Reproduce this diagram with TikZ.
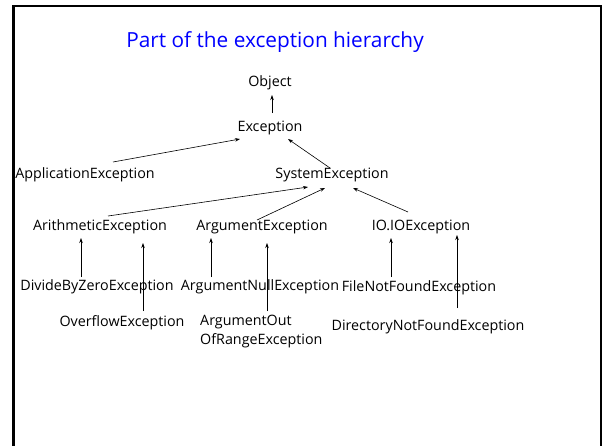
\documentclass[tikz,border=0pt]{standalone}
\usepackage{fontspec}
\setmainfont{Open Sans}
\usetikzlibrary{arrows.meta,calc}
\definecolor{titleblue}{RGB}{0,0,255}
\tikzset{
  cls/.style={inner sep=0pt, font=\fontsize{14.3}{19}\selectfont},
  ttl/.style={inner sep=0pt, text=titleblue, font=\fontsize{20.8}{25}\selectfont},
  inh/.style={line width=0.6pt, -{Stealth[length=5pt,width=3.5pt]}},
  frame/.style={line width=2.5pt}
}
\begin{document}
\begin{tikzpicture}[x=1pt,y=-1pt]
\useasboundingbox (0,0) rectangle (602,445);
% slide frame, open at the bottom
\draw[frame] (13.5,446) -- (13.5,6) -- (601,6) -- (601,446);

\node[ttl] (title) at (275,42) {Part of the exception hierarchy};

\node[cls] (obj) at (270,83) {Object};
\node[cls] (exc) at (270,128) {Exception};
\node[cls] (app) at (85,175) {ApplicationException};
\node[cls] (sys) at (332,175) {SystemException};
\node[cls] (arith) at (100,227) {ArithmeticException};
\node[cls] (arg) at (262,227) {ArgumentException};
\node[cls] (io) at (421,227) {IO.IOException};
\node[cls] (div) at (97,287) {DivideByZeroException};
\node[cls] (argnull) at (260,287) {ArgumentNullException};
\node[cls] (fnf) at (419,288) {FileNotFoundException};
\node[cls] (ovf) at (122,323) {OverflowException};
\node[cls, anchor=west, align=left] (aoor) at (200,332) {ArgumentOut\\OfRangeException};
\node[cls] (dnf) at (428,327) {DirectoryNotFoundException};

% inheritance arrows, child to parent
\draw[inh] ($(exc)+(2,-15)$) -- ($(obj)+(2,12)$);
\draw[inh] ($(app)+(28,-13)$) -- ($(exc)+(-30,11)$);
\draw[inh] ($(sys)+(-2,-7)$) -- ($(exc)+(18,11)$);
\draw[inh] ($(arith)+(8,-11)$) -- ($(sys)+(-24,12)$);
\draw[inh] ($(arg)+(-5,-7)$) -- ($(sys)+(-7,13)$);
\draw[inh] ($(io)+(-13,-15)$) -- ($(sys)+(21,13)$);
\draw[inh] ($(div)+(-16,-10)$) -- ($(arith)+(-19,11)$);
\draw[inh] ($(ovf)+(21,-12)$) -- ($(arith)+(43,16)$);
\draw[inh] ($(argnull)+(-49,-10)$) -- ($(arg)+(-51,11)$);
\draw[inh] ($(aoor.west)+(67,-21)$) -- ($(arg)+(5,16)$);
\draw[inh] ($(fnf)+(-28,-11)$) -- ($(io)+(-30,11)$);
\draw[inh] ($(dnf)+(29,-19)$) -- ($(io)+(36,8)$);
\end{tikzpicture}
\end{document}
